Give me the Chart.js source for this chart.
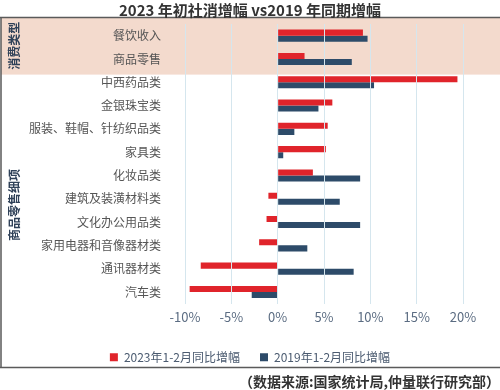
<!DOCTYPE html>
<html>
<head>
<meta charset="utf-8">
<script src="https://cdn.jsdelivr.net/npm/chart.js@4.4.0/dist/chart.umd.min.js"></script>
<style>
  html, body { margin: 0; padding: 0; background: #fff; }
  #wrap { width: 500px; height: 390px; position: relative; }
</style>
</head>
<body>
<div id="wrap"><canvas id="chart"></canvas></div>
<script>
const categories = ['餐饮收入', '商品零售', '中西药品类', '金银珠宝类', '服装、鞋帽、针纺织品类', '家具类', '化妆品类', '建筑及装潢材料类', '文化办公用品类', '家用电器和音像器材类', '通讯器材类', '汽车类'];
const growth2023 = [9.2, 2.9, 19.4, 5.9, 5.4, 5.2, 3.8, -1.0, -1.2, -2.0, -8.3, -9.5];
const growth2019 = [9.7, 8.0, 10.4, 4.4, 1.8, 0.6, 8.9, 6.7, 8.9, 3.2, 8.2, -2.8];
const seriesNames = ['2023年1-2月同比增幅', '2019年1-2月同比增幅'];
const xTicks = [-10, -5, 0, 5, 10, 15, 20];
const groupNames = ['消费类型', '商品零售细项'];

const FONT = "'Noto Sans CJK SC', 'Noto Sans', sans-serif";

// peach band behind the first two rows + frame lines + rotated group labels
const framePlugin = {
  id: 'frame',
  beforeDraw(chart) {
    const ctx = chart.ctx;
    const y = chart.scales.y;
    const bandBottom = (y.getPixelForValue(1) + y.getPixelForValue(2)) / 2 + 4;
    ctx.save();
    ctx.fillStyle = '#fff';
    ctx.fillRect(0, 0, chart.width, chart.height);
    ctx.fillStyle = '#f3dacd';
    ctx.fillRect(1, 17, chart.width, bandBottom - 17);
    ctx.strokeStyle = '#5a5a5a';
    ctx.lineWidth = 1.5;
    ctx.beginPath();
    ctx.moveTo(0, 17.5);
    ctx.lineTo(chart.width, 17.5);
    ctx.moveTo(1, 17);
    ctx.lineTo(1, 367.5);
    ctx.moveTo(0, 367.5);
    ctx.lineTo(chart.width, 367.5);
    ctx.stroke();
    ctx.restore();
  },
  afterDraw(chart) {
    const ctx = chart.ctx;
    const y = chart.scales.y;
    const x = chart.scales.x;
    const bandBottom = (y.getPixelForValue(1) + y.getPixelForValue(2)) / 2 + 4;
    const centers = [(17 + bandBottom) / 2, (bandBottom + x.bottom) / 2 + 2];
    ctx.save();
    ctx.fillStyle = '#2f4158';
    ctx.font = 'bold 12px ' + FONT;
    ctx.textAlign = 'center';
    ctx.textBaseline = 'middle';
    groupNames.forEach((name, i) => {
      ctx.save();
      ctx.translate(14, centers[i]);
      ctx.rotate(-Math.PI / 2);
      ctx.fillText(name, 0, 0);
      ctx.restore();
    });
    ctx.restore();
  }
};

const noVerticalPadding = (scale) => {
  scale.paddingTop = 0;
  scale.paddingBottom = 0;
};

new Chart(document.getElementById('chart'), {
  type: 'bar',
  data: {
    labels: categories,
    datasets: [{
      label: seriesNames[0],
      data: growth2023,
      backgroundColor: '#e0242b',
      barPercentage: 1,
      categoryPercentage: 0.52
    }, {
      label: seriesNames[1],
      data: growth2019,
      backgroundColor: '#2d4b69',
      barPercentage: 1,
      categoryPercentage: 0.52
    }]
  },
  options: {
    indexAxis: 'y',
    responsive: true,
    maintainAspectRatio: false,
    animation: false,
    layout: { padding: 0 },
    scales: {
      x: {
        min: -10,
        max: 20,
        afterBuildTicks: (scale) => { scale.ticks = xTicks.map(v => ({ value: v })); },
        grid: { color: '#d5e6ee', lineWidth: 1, drawTicks: false, z: 1 },
        border: { display: false },
        ticks: {
          padding: 6,
          color: '#5b6c82',
          font: { family: FONT, size: 13 },
          callback: (v) => v + '%'
        }
      },
      y: {
        grid: { display: false, drawTicks: false },
        border: { display: false },
        afterFit: (scale) => { scale.width = 185; noVerticalPadding(scale); },
        ticks: {
          padding: 24,
          color: '#555',
          font: { family: FONT, size: 12 }
        }
      },
      spacer: {
        type: 'category',
        axis: 'y',
        position: 'right',
        labels: categories,
        grid: { display: false, drawTicks: false },
        border: { display: false },
        ticks: { display: false },
        afterFit: (scale) => { scale.width = 37; noVerticalPadding(scale); }
      }
    },
    plugins: {
      title: {
        display: true,
        text: '2023 年初社消增幅 vs2019 年同期增幅',
        color: '#333',
        font: { family: FONT, size: 15, weight: 'bold' },
        padding: { top: 1, bottom: 5 }
      },
      subtitle: {
        display: true,
        position: 'bottom',
        align: 'end',
        text: '（数据来源:国家统计局,仲量联行研究部）',
        color: '#333',
        font: { family: FONT, size: 14, weight: 'bold' },
        padding: 0
      },
      legend: {
        position: 'bottom',
        labels: {
          boxWidth: 8,
          boxHeight: 8,
          padding: 20,
          color: '#4b5b70',
          font: { family: FONT, size: 12 },
          generateLabels: (chart) => Chart.defaults.plugins.legend.labels.generateLabels(chart)
        }
      },
      tooltip: { enabled: false }
    }
  },
  plugins: [framePlugin]
});
</script>
</body>
</html>
